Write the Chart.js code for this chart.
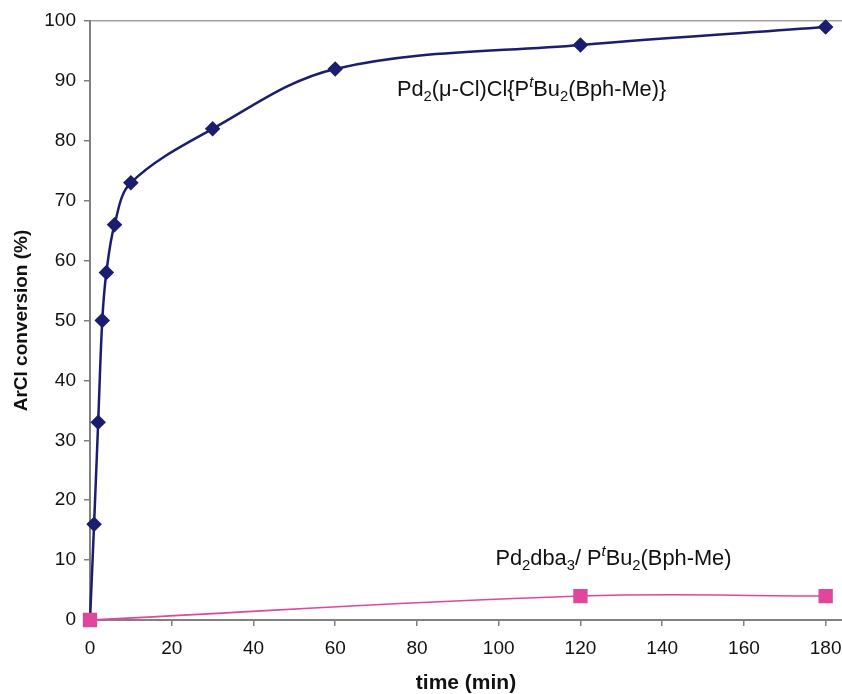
<!DOCTYPE html>
<html>
<head>
<meta charset="utf-8">
<script src="https://cdn.jsdelivr.net/npm/chart.js@4/dist/chart.umd.min.js"></script>
<style>
  body { margin: 0; background: #fff; }
  #wrap { width: 842px; height: 694px; }
</style>
</head>
<body>
<div id="wrap"><canvas id="convChart" width="842" height="694"></canvas></div>
<script>
// data
const timeA = [0, 1, 2, 3, 4, 6, 10, 30, 60, 120, 180];
const convA = [0, 16, 33, 50, 58, 66, 73, 82, 92, 96, 99];
const timeB = [0, 120, 180];
const convB = [0, 4, 4];
const xTicks = [0, 20, 40, 60, 80, 100, 120, 140, 160, 180];
const yTicks = [0, 10, 20, 30, 40, 50, 60, 70, 80, 90, 100];

const navy = '#1b1e6e';
const pink = '#e0479c';
const axisGrey = '#808080';
const fontFam = '"Liberation Sans", Arial, sans-serif';

// labels with sub / superscripts, drawn on the canvas
const richLabels = {
    id: 'richLabels',
    afterDatasetsDraw(chart, args, opts) {
        const ctx = chart.ctx;
        const xs = chart.scales.x, ys = chart.scales.y;
        opts.items.forEach((item) => {
            let x = xs.getPixelForValue(item.x);
            const y = ys.getPixelForValue(item.y);
            ctx.save();
            ctx.fillStyle = '#111';
            ctx.textBaseline = 'alphabetic';
            item.parts.forEach((p) => {
                let size = item.size, dy = 0;
                if (p.sub) { size = item.size * 0.68; dy = item.size * 0.22; }
                if (p.sup) { size = item.size * 0.68; dy = -item.size * 0.42; }
                ctx.font = (p.italic ? 'italic ' : '') + size + 'px ' + fontFam;
                ctx.fillText(p.t, x, y + dy);
                x += ctx.measureText(p.t).width;
            });
            ctx.restore();
        });
    }
};

new Chart(document.getElementById('convChart').getContext('2d'), {
    type: 'line',
    data: {
        datasets: [{
            label: 'Pd2(mu-Cl)Cl{PtBu2(Bph-Me)}',
            data: timeA.map((t, i) => ({ x: t, y: convA[i] })),
            borderColor: navy,
            backgroundColor: navy,
            borderWidth: 2.5,
            pointStyle: 'rectRot',
            pointRadius: timeA.map((t) => t === 0 ? 0 : 6),
            tension: 0.35,
            clip: false,
            order: 1
        }, {
            label: 'Pd2dba3/ PtBu2(Bph-Me)',
            data: timeB.map((t, i) => ({ x: t, y: convB[i] })),
            borderColor: pink,
            backgroundColor: pink,
            borderWidth: 1.6,
            pointStyle: 'rect',
            pointRadius: 9,
            tension: 0.4,
            clip: false,
            order: 0
        }]
    },
    options: {
        responsive: false,
        animation: false,
        layout: { autoPadding: false, padding: { top: 21, right: 0, left: 0, bottom: 0 } },
        plugins: {
            legend: { display: false },
            tooltip: { enabled: false },
            richLabels: {
                items: [{
                    x: 75.1, y: 87.5, size: 21.8,
                    parts: [
                        { t: 'Pd' }, { t: '2', sub: true }, { t: '(\u03bc-Cl)Cl{P' },
                        { t: 't', sup: true, italic: true }, { t: 'Bu' }, { t: '2', sub: true },
                        { t: '(Bph-Me)}' }
                    ]
                }, {
                    x: 99.2, y: 9.2, size: 21.8,
                    parts: [
                        { t: 'Pd' }, { t: '2', sub: true }, { t: 'dba' }, { t: '3', sub: true },
                        { t: '/ P' }, { t: 't', sup: true, italic: true }, { t: 'Bu' },
                        { t: '2', sub: true }, { t: '(Bph-Me)' }
                    ]
                }]
            }
        },
        scales: {
            x: {
                type: 'linear',
                min: 0,
                max: 184,
                afterBuildTicks: (axis) => { axis.ticks = xTicks.map((v) => ({ value: v })); },
                afterFit: (axis) => { axis.height = 74; axis.paddingRight = 0; axis.paddingLeft = 0; },
                ticks: { color: '#111', font: { family: fontFam, size: 19 }, padding: 11, maxRotation: 0 },
                grid: { display: true, drawOnChartArea: false, color: axisGrey, tickLength: 6, lineWidth: 1.5 },
                border: { color: axisGrey, width: 2 },
                title: {
                    display: true, text: 'time (min)', color: '#111',
                    font: { family: fontFam, size: 21, weight: 'bold', lineHeight: 1 },
                    padding: { top: 4, bottom: 0 }
                }
            },
            y: {
                min: 0,
                max: 100,
                afterBuildTicks: (axis) => { axis.ticks = yTicks.map((v) => ({ value: v })); },
                afterFit: (axis) => { axis.width = 90; axis.paddingTop = 0; axis.paddingBottom = 0; },
                ticks: { color: '#111', font: { family: fontFam, size: 19 }, padding: 8 },
                grid: {
                    color: (c) => c.tick && c.tick.value === 100 ? '#a0a0a0' : 'rgba(0,0,0,0)',
                    tickColor: axisGrey,
                    tickLength: 6,
                    lineWidth: 1.5
                },
                border: { color: axisGrey, width: 2 },
                title: {
                    display: true, text: 'ArCl conversion (%)', color: '#111',
                    font: { family: fontFam, size: 19, weight: 'bold', lineHeight: 1 },
                    padding: { top: 12, bottom: 4 }
                }
            }
        }
    },
    plugins: [richLabels]
});
</script>
</body>
</html>
